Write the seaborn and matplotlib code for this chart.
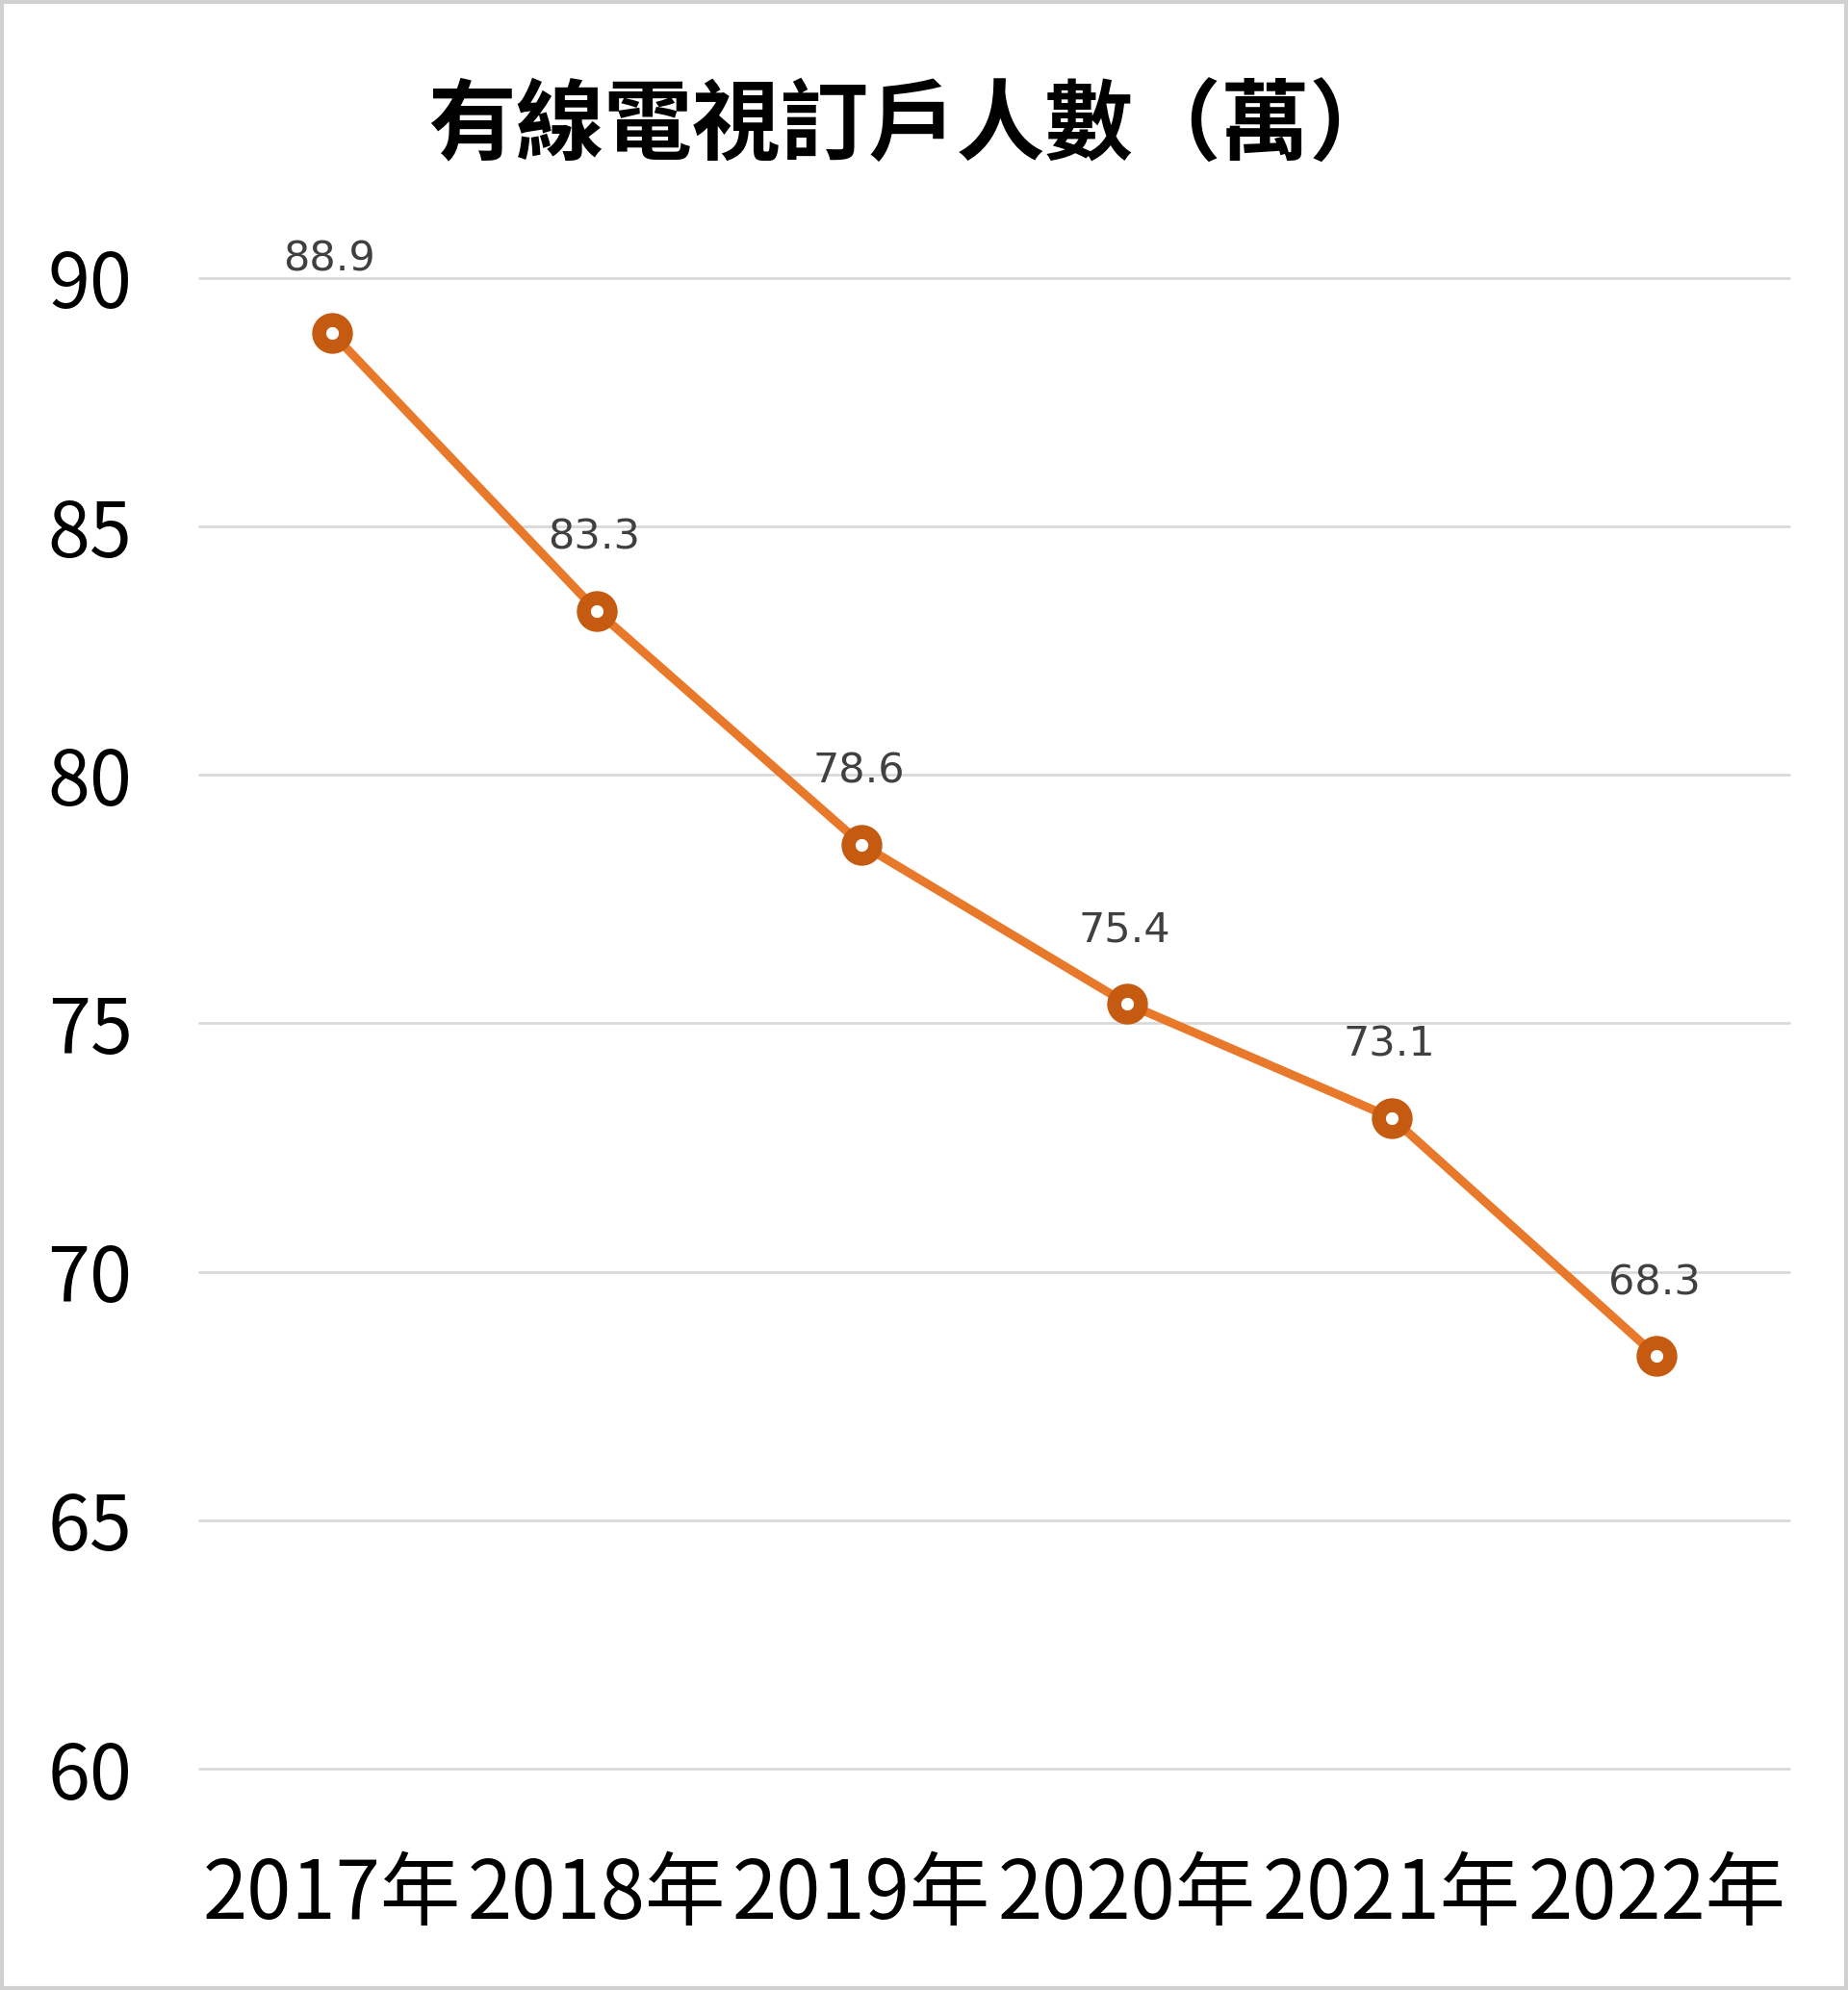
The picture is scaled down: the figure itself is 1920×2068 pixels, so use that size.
import matplotlib
matplotlib.use("Agg")
import matplotlib.pyplot as plt
import seaborn as sns
from matplotlib.patches import Rectangle

sns.set_theme(style="white")
plt.rcParams["font.family"] = ["Noto Sans CJK TC", "DejaVu Sans"]

TITLE = "有線電視訂戶人數（萬）"
years = ["2017年", "2018年", "2019年", "2020年", "2021年", "2022年"]
subscribers = [88.9, 83.3, 78.6, 75.4, 73.1, 68.3]
y_ticks = [60, 65, 70, 75, 80, 85, 90]

LINE_COLOR = "#E8782A"
MARKER_EDGE = "#C55A11"
GRID_COLOR = "#D9D9D9"
LABEL_COLOR = "#404040"

fig = plt.figure(figsize=(19.2, 20.68), dpi=100)
ax = fig.add_axes([0.1078, 0.1112, 0.8604, 0.7491])

xpos = list(range(len(years)))
sns.lineplot(x=xpos, y=subscribers, ax=ax, color=LINE_COLOR, linewidth=6.5,
             marker="o", markersize=20, markerfacecolor="white",
             markeredgecolor=MARKER_EDGE, markeredgewidth=10.5, clip_on=False)

for x, v in zip(xpos, subscribers):
    ax.annotate(f"{v:.1f}", (x, v), xytext=(-2, 55), textcoords="offset points",
                ha="center", va="center", fontsize=31, color=LABEL_COLOR,
                family=["DejaVu Sans"])

ax.set_xlim(-0.5, len(years) - 0.5)
ax.set_ylim(60, 90)
ax.set_yticks(y_ticks)
ax.set_yticklabels([str(t) for t in y_ticks])
ax.set_xticks(xpos)
ax.set_xticklabels(years)
ax.yaxis.grid(True, color=GRID_COLOR, linewidth=2)
for gl in ax.get_ygridlines():
    gl.set_clip_on(False)
ax.set_axisbelow(True)
for s in ax.spines.values():
    s.set_visible(False)
ax.tick_params(axis="y", length=0, pad=50, labelsize=57, labelcolor="#000000")
ax.tick_params(axis="x", length=0, pad=64, labelsize=60, labelcolor="#000000")
ax.set_xlabel("")
ax.set_ylabel("")

fig.text(0.494, 0.936, TITLE, ha="center", va="center", fontsize=66,
         fontweight="bold", color="#000000")

fig.patches.append(Rectangle((0.001, 0.001), 0.998, 0.998, transform=fig.transFigure,
                             fill=False, edgecolor="#D0D0D0", linewidth=3))

fig.savefig("out.png", dpi=100)
